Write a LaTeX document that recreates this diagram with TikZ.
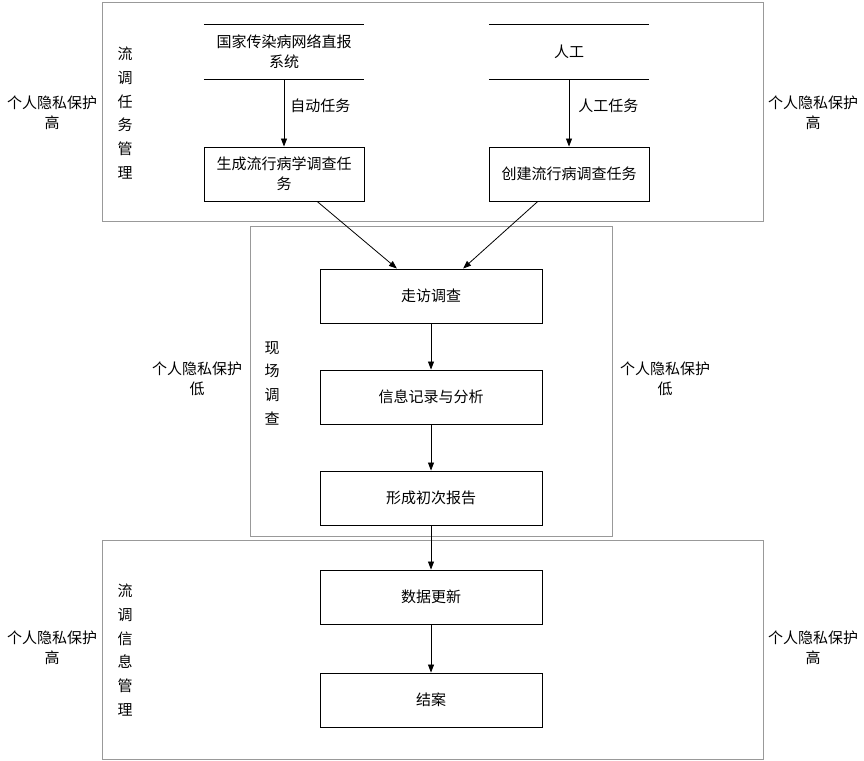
\documentclass[tikz,border=0pt]{standalone}
\usepackage{fontspec}
\setmainfont{Noto Sans CJK SC}
\usetikzlibrary{arrows.meta,calc}
\begin{document}
\begin{tikzpicture}[x=1pt,y=-1pt,
  every node/.style={font=\fontsize{15}{20}\selectfont, inner sep=0pt},
  container/.style={draw=black!40, line width=1pt},
  procbox/.style={draw=black, line width=0.9pt, minimum width=222pt, minimum height=54pt, align=center},
  taskbox/.style={draw=black, line width=0.9pt, minimum width=160pt, minimum height=54pt, align=center},
  dbnode/.style={minimum width=160pt, minimum height=54pt, align=center},
  flow/.style={draw=black, line width=0.8pt, -{Triangle[length=8pt,width=6pt]}},
  vlabel/.style={align=center, font=\fontsize{15}{23.7}\selectfont},
  sidelabel/.style={align=center}]
\useasboundingbox (0,0) rectangle (864,760);

% containers
\node[container, minimum width=661pt, minimum height=219pt, anchor=north west] (c1) at (102,2) {};
\node[container, minimum width=362pt, minimum height=310pt, anchor=north west] (c2) at (250,226) {};
\node[container, minimum width=661pt, minimum height=219pt, anchor=north west] (c3) at (102,540) {};

% vertical labels
\node[vlabel] (v1) at (125,113) {流\\调\\任\\务\\管\\理};
\node[vlabel] (v2) at (272,383) {现\\场\\调\\查};
\node[vlabel] (v3) at (125,650) {流\\调\\信\\息\\管\\理};

% side labels
\node[sidelabel] (s1) at (52,113) {个人隐私保护\\高};
\node[sidelabel] (s2) at (813,113) {个人隐私保护\\高};
\node[sidelabel] (s3) at (197,379) {个人隐私保护\\低};
\node[sidelabel] (s4) at (665,379) {个人隐私保护\\低};
\node[sidelabel] (s5) at (52,648) {个人隐私保护\\高};
\node[sidelabel] (s6) at (813,648) {个人隐私保护\\高};

% data stores
\node[dbnode] (db1) at (284,52) {国家传染病网络直报\\系统};
\draw[line width=0.9pt] (db1.north west) -- (db1.north east);
\draw[line width=0.9pt] (db1.south west) -- (db1.south east);
\node[dbnode] (db2) at (569,52) {人工};
\draw[line width=0.9pt] (db2.north west) -- (db2.north east);
\draw[line width=0.9pt] (db2.south west) -- (db2.south east);

% task boxes
\node[taskbox] (t1) at (284,174) {生成流行病学调查任\\务};
\node[taskbox] (t2) at (569,174) {创建流行病调查任务};

% process boxes
\node[procbox] (p1) at (431,296) {走访调查};
\node[procbox] (p2) at (431,397) {信息记录与分析};
\node[procbox] (p3) at (431,498) {形成初次报告};
\node[procbox] (p4) at (431,597) {数据更新};
\node[procbox] (p5) at (431,700) {结案};

% connectors
\draw[flow] (db1.south) -- node[pos=0.4, right=6pt] {自动任务} (t1.north);
\draw[flow] (db2.south) -- node[pos=0.4, right=9pt] {人工任务} (t2.north);
\draw[flow] ($(t1.south west)!0.706!(t1.south east)$) -- ($(p1.north west)!0.347!(p1.north east)$);
\draw[flow] ($(t2.south west)!0.306!(t2.south east)$) -- ($(p1.north west)!0.644!(p1.north east)$);
\draw[flow] (p1) -- (p2);
\draw[flow] (p2) -- (p3);
\draw[flow] (p3) -- (p4);
\draw[flow] (p4) -- (p5);
\end{tikzpicture}
\end{document}
